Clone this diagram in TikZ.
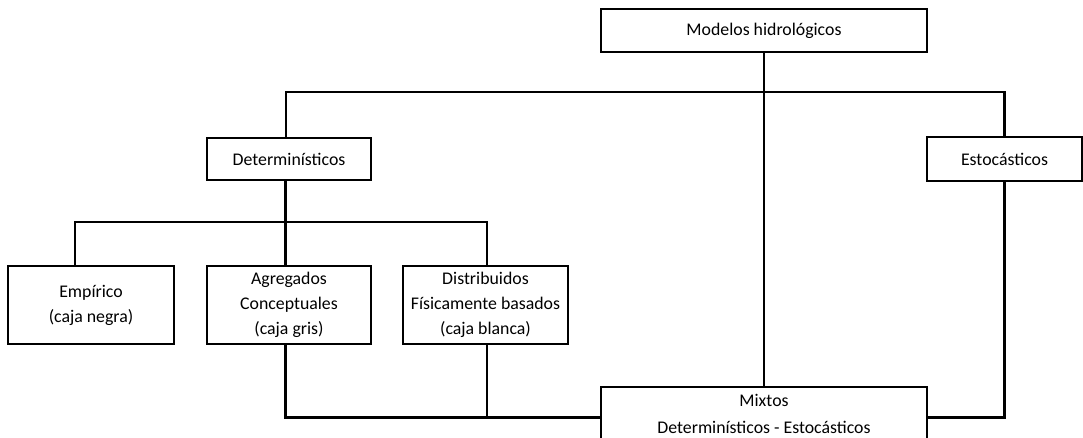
\documentclass[tikz,border=0pt]{standalone}
\usepackage{fontspec}
\setmainfont{Carlito}
\usetikzlibrary{calc}
\begin{document}
\begin{tikzpicture}[x=1pt,y=-1pt,
  box/.style={draw=black, line width=2.4pt, align=center, inner sep=0pt, font=\fontsize{17.8}{25}\selectfont},
  conn/.style={draw=black, line width=2.4pt, line join=miter}]
\useasboundingbox (0,0) rectangle (1083,437);
\clip (0,0) rectangle (1083,437);
\node[box, minimum width=326, minimum height=43] (mod) at (764,30.5) {Modelos hidrológicos};
\node[box, minimum width=164, minimum height=42] (det) at (289,159) {Determinísticos};
\node[box, minimum width=155, minimum height=44] (est) at (1004.5,159) {Estocásticos};
\node[box, minimum width=166, minimum height=78] (emp) at (91,305) {Empírico\\(caja negra)};
\node[box, minimum width=164, minimum height=78] (agr) at (289,305) {Agregados\\Conceptuales\\(caja gris)};
\node[box, minimum width=165, minimum height=78] (dis) at (485.5,305) {Distribuidos\\Físicamente basados\\(caja blanca)};
\node[box, minimum width=326, minimum height=53, font=\fontsize{17.8}{27}\selectfont] (mix) at (764,413.5) {Mixtos\\Determinísticos - Estocásticos};
\coordinate (j1) at (286,92);
\coordinate (j2) at (285.5,222);
\coordinate (j3) at (0,417.5);
\coordinate (dN) at ($(det.north)+(-3,0)$);
\coordinate (dS) at ($(det.south)+(-3.5,0)$);
\coordinate (aN) at ($(agr.north)+(-3.5,0)$);
\coordinate (aS) at ($(agr.south)+(-3.5,0)$);
\coordinate (eN) at ($(emp.north)+(-16,0)$);
\coordinate (sN) at ($(dis.north)+(1.5,0)$);
\coordinate (sS) at ($(dis.south)+(1.5,0)$);
\draw[conn] (mod.south) -- (mix.north);
\draw[conn] (dN) |- (est.north |- j1) -- (est.north);
\draw[conn] (dS) -- (aN);
\draw[conn] (eN) |- (j2) -| (sN);
\draw[conn] (aS) |- (mix.west |- j3);
\draw[conn] (sS) -- (sS |- j3);
\draw[conn] (mix.east |- j3) -| (est.south);
\end{tikzpicture}
\end{document}
